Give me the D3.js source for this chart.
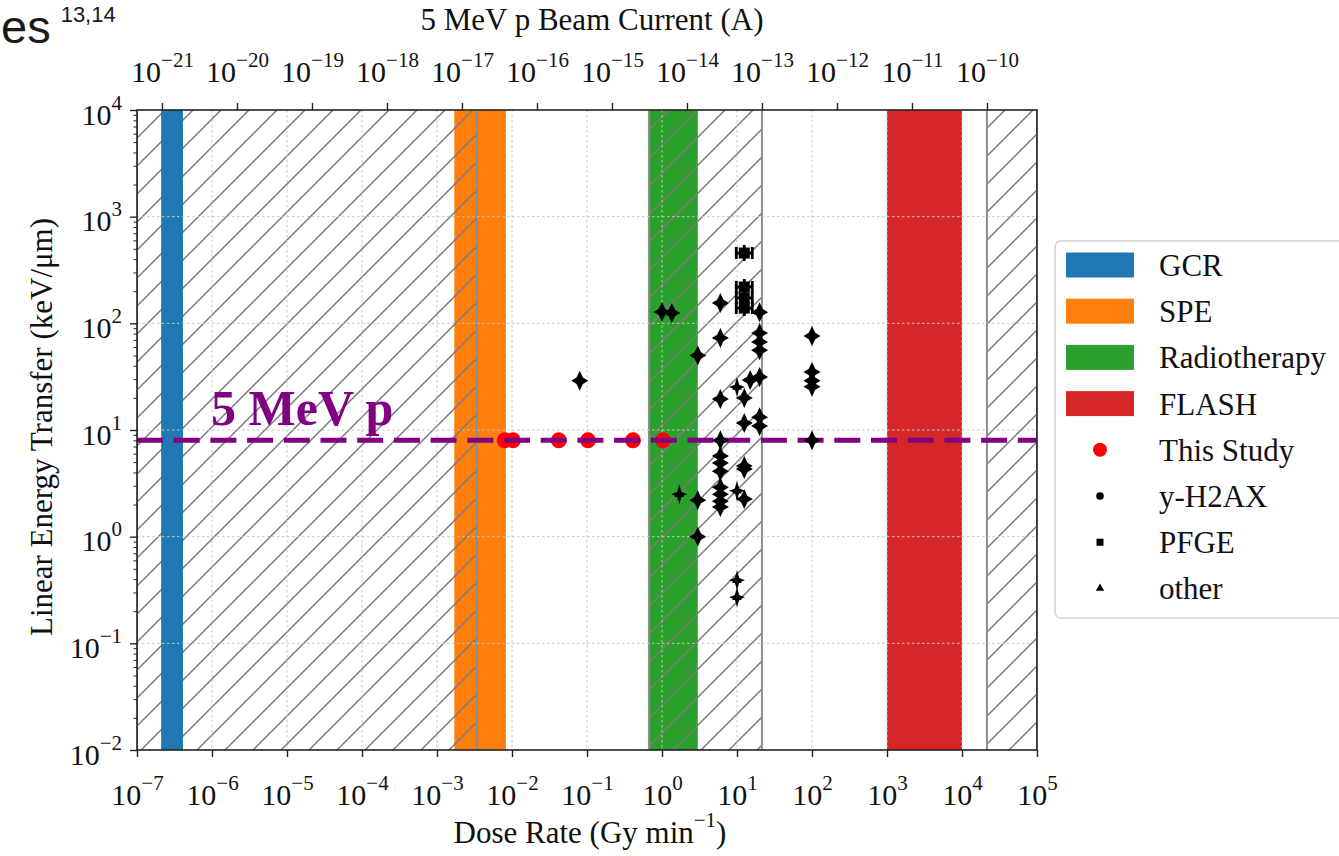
<!DOCTYPE html>
<html>
<head>
<meta charset="utf-8">
<script src="https://cdn.jsdelivr.net/npm/d3@7"></script>
<style>
  body { margin: 0; background: #fff; }
  svg { display: block; font-family: "Liberation Serif", "Times New Roman", serif; }
</style>
</head>
<body>
<svg id="chart" width="1339" height="856"></svg>
<script>
// Dose-rate regimes (Gy/min)
const bandNames  = ["GCR", "SPE", "Radiotherapy", "FLASH"];
const bandColors = ["#1f77b4", "#ff7f0e", "#2ca02c", "#d62728"];
const bandLow    = [2.1e-7, 1.7e-3, 0.65, 1e3];
const bandHigh   = [4.1e-7, 8.3e-3, 3.0, 1e4];

// Dose-rate ranges outside the reach of the 5 MeV proton beam (hatched)
const hatchLow  = [1e-7, 0.67, 2.15e4];
const hatchHigh = [3.4e-3, 21.5, 1e5];

// LET of a 5 MeV proton (keV/µm)
const protonLET = 8;

// Dose rates used in this study (Gy/min)
const studyRate = [0.008, 0.0103, 0.042, 0.103, 0.41, 1.03];

// Literature data: [dose rate (Gy/min), LET (keV/µm)]
const h2axPoints = [
  [0.08, 29],
  [1.0, 128], [1.35, 125], [3, 50], [3, 2.2], [3, 1.0],
  [6, 155], [6, 73], [6, 19.5], [6, 8], [6, 5.7], [6, 4.9], [6, 4.1],
  [6, 2.9], [6, 2.5], [6, 2.15], [6, 1.9],
  [12.5, 20], [12.5, 11.6], [12.5, 4.6], [12.5, 4.3], [12.5, 2.25],
  [15, 29.4],
  [20, 127], [20, 81], [20, 67], [20, 56], [20, 31.4], [20, 13.2], [20, 10.9],
  [100, 76], [100, 35], [100, 29], [100, 25.5], [100, 8]
];
const pfgePoints = [[12.5, 456], [12.5, 219], [12.5, 173], [12.5, 139]];
const otherPoints = [[1.7, 2.5], [10, 25.3], [10, 2.7], [10, 0.39], [10, 0.27]];

// Axis ticks (decade exponents)
const xTickExp = d3.range(-7, 6);          // dose rate
const yTickExp = d3.range(-2, 5);          // LET
const currentTickExp = d3.range(-21, -9);  // beam current

// Beam current (A) that delivers 1 Gy/min with 5 MeV protons
const ampsPerGyMin = Math.pow(10, -14.333);

// Legend entries
const legendLabels = ["GCR", "SPE", "Radiotherapy", "FLASH", "This Study", "y-H2AX", "PFGE", "other"];

const svg = d3.select("#chart");
const plot = { left: 137, right: 1037, top: 110, bottom: 750 };

const x = d3.scaleLog().domain([1e-7, 1e5]).range([plot.left, plot.right]);
const y = d3.scaleLog().domain([1e-2, 1e4]).range([plot.bottom, plot.top]);
const xTop = d3.scaleLog()
  .domain(x.domain().map(v => v * ampsPerGyMin))
  .range([plot.left, plot.right]);

const minus = "\u2212";
const expText = e => (e < 0 ? minus + (-e) : String(e));

// Page text fragment above the figure
const frag = svg.append("text").attr("x", 1).attr("y", 43)
  .attr("font-family", "Liberation Sans, Arial, sans-serif")
  .attr("fill", "#1a1a1a");
frag.append("tspan").attr("font-size", 47).text("es");
frag.append("tspan").attr("font-size", 22).attr("dx", 10).attr("dy", -21).text("13,14");

// Hatch pattern
const defs = svg.append("defs");
const hp = defs.append("pattern").attr("id", "hatch")
  .attr("patternUnits", "userSpaceOnUse")
  .attr("width", 28).attr("height", 28)
  .attr("x", plot.left).attr("y", plot.top);
hp.append("path")
  .attr("d", "M-7,7L7,-7M0,28L28,0M21,35L35,21")
  .attr("stroke", "#7a7a7a").attr("stroke-width", 1.5);

defs.append("clipPath").attr("id", "plotClip").append("rect")
  .attr("x", plot.left).attr("y", plot.top)
  .attr("width", plot.right - plot.left).attr("height", plot.bottom - plot.top);

const area = svg.append("g").attr("clip-path", "url(#plotClip)");

// Regime bands drawn beneath the hatch (all but GCR)
const bandIdx = d3.range(bandNames.length);
area.append("g").selectAll("rect")
  .data(bandIdx.filter(i => i !== 0))
  .join("rect")
  .attr("x", i => x(bandLow[i]))
  .attr("width", i => x(bandHigh[i]) - x(bandLow[i]))
  .attr("y", plot.top).attr("height", plot.bottom - plot.top)
  .attr("fill", i => bandColors[i]);

// Hatched ranges
const hatchIdx = d3.range(hatchLow.length);
area.append("g").selectAll("rect")
  .data(hatchIdx)
  .join("rect")
  .attr("x", i => x(hatchLow[i]))
  .attr("width", i => x(hatchHigh[i]) - x(hatchLow[i]))
  .attr("y", plot.top).attr("height", plot.bottom - plot.top)
  .attr("fill", "url(#hatch)");
area.append("g").selectAll("line")
  .data(hatchIdx.flatMap(i => [hatchLow[i], hatchHigh[i]]))
  .join("line")
  .attr("x1", d => x(d)).attr("x2", d => x(d))
  .attr("y1", plot.top).attr("y2", plot.bottom)
  .attr("stroke", "#8c8c8c").attr("stroke-width", 2);

// GCR band on top of the hatch
area.append("rect")
  .attr("x", x(bandLow[0]))
  .attr("width", x(bandHigh[0]) - x(bandLow[0]))
  .attr("y", plot.top).attr("height", plot.bottom - plot.top)
  .attr("fill", bandColors[0]);

// Grid
const grid = area.append("g").attr("stroke", "#c4c4c4").attr("stroke-width", 1)
  .attr("stroke-dasharray", "2.5,2.5");
grid.selectAll("line.gx")
  .data(xTickExp.slice(1, -1))
  .join("line").attr("class", "gx")
  .attr("x1", e => x(Math.pow(10, e))).attr("x2", e => x(Math.pow(10, e)))
  .attr("y1", plot.top).attr("y2", plot.bottom);
grid.selectAll("line.gy")
  .data(yTickExp.slice(1, -1))
  .join("line").attr("class", "gy")
  .attr("y1", e => y(Math.pow(10, e))).attr("y2", e => y(Math.pow(10, e)))
  .attr("x1", plot.left).attr("x2", plot.right);

// This study
area.append("g").selectAll("circle")
  .data(studyRate)
  .join("circle")
  .attr("cx", d => x(d)).attr("cy", y(protonLET)).attr("r", 8)
  .attr("fill", "#ff0000");

// 5 MeV proton LET line
area.append("line")
  .attr("x1", plot.left).attr("x2", plot.right)
  .attr("y1", y(protonLET)).attr("y2", y(protonLET))
  .attr("stroke", "#800080").attr("stroke-width", 5)
  .attr("stroke-dasharray", "26,10.7");

svg.append("text")
  .attr("x", 211).attr("y", y(protonLET) - 15)
  .attr("font-size", 50).attr("font-weight", "bold")
  .attr("fill", "#800080").text("5 MeV p");

// Literature points: marker plus error bars
const starPath = "M0,-10L3.2,-3.2L8.5,0L3.2,3.2L0,10L-3.2,3.2L-8.5,0L-3.2,-3.2Z";
const thinStar = "M0,-10L2.2,-2.2L8,0L2.2,2.2L0,10L-2.2,2.2L-8,0L-2.2,-2.2Z";
const pts = area.append("g");
pts.selectAll("g.h2ax")
  .data(h2axPoints)
  .join("g").attr("class", "h2ax")
  .attr("transform", d => `translate(${x(d[0])},${y(d[1])})`)
  .call(g => {
    g.append("path").attr("d", starPath).attr("fill", "#000");
    g.append("circle").attr("r", 4.2).attr("fill", "#000");
  });

pts.selectAll("g.other")
  .data(otherPoints)
  .join("g").attr("class", "other")
  .attr("transform", d => `translate(${x(d[0])},${y(d[1])})`)
  .call(g => {
    g.append("path").attr("d", thinStar).attr("fill", "#000");
    g.append("path").attr("d", d3.symbol(d3.symbolTriangle, 40)()).attr("fill", "#000");
  });

pts.selectAll("g.pfge")
  .data(pfgePoints)
  .join("g").attr("class", "pfge")
  .attr("transform", d => `translate(${x(d[0])},${y(d[1])})`)
  .call(g => {
    g.append("path").attr("d", "M-8,0H8M-8,-6V6M8,-6V6M0,-8V8")
      .attr("stroke", "#000").attr("stroke-width", 2.8).attr("fill", "none");
    g.append("rect").attr("x", -5.5).attr("y", -5.5).attr("width", 11).attr("height", 11)
      .attr("fill", "#000");
  });

// Axes
const labelFS = 30, supFS = 21, supRaise = 15;
function powerLabel(text, e) {
  text.text(null);
  text.append("tspan").text("10");
  text.append("tspan").attr("font-size", supFS).attr("dy", -supRaise).text(expText(e));
}

const axX = svg.append("g").attr("transform", `translate(0,${plot.bottom})`)
  .call(d3.axisBottom(x).tickValues(xTickExp.map(e => Math.pow(10, e)))
    .tickSize(7).tickFormat(() => ""));
axX.selectAll(".tick text").each(function (d) {
  const t = d3.select(this).attr("y", 55).attr("dy", null)
    .attr("font-size", labelFS).attr("fill", "#111");
  powerLabel(t, Math.round(Math.log10(d)));
});

const axTop = svg.append("g").attr("transform", `translate(0,${plot.top})`)
  .call(d3.axisTop(xTop).tickValues(currentTickExp.map(e => Math.pow(10, e)))
    .tickSize(7).tickFormat(() => ""));
axTop.selectAll(".tick text").each(function (d) {
  const t = d3.select(this).attr("y", -28).attr("dy", null)
    .attr("font-size", labelFS).attr("fill", "#111");
  powerLabel(t, Math.round(Math.log10(d)));
});

const axY = svg.append("g").attr("transform", `translate(${plot.left},0)`)
  .call(d3.axisLeft(y).tickValues(yTickExp.map(e => Math.pow(10, e)))
    .tickSize(7).tickFormat(() => ""));
axY.selectAll(".tick text").each(function (d) {
  const t = d3.select(this).attr("x", -15).attr("y", 14).attr("dy", null)
    .attr("font-size", labelFS).attr("fill", "#111");
  powerLabel(t, Math.round(Math.log10(d)));
});

const minorY = [];
yTickExp.slice(0, -1).forEach(e => d3.range(2, 10).forEach(m => minorY.push(m * Math.pow(10, e))));
svg.append("g").attr("transform", `translate(${plot.left},0)`)
  .call(d3.axisLeft(y).tickValues(minorY).tickSize(3.5).tickFormat(""))
  .call(g => g.select(".domain").remove());

[axX, axTop, axY].forEach(g => {
  g.select(".domain").remove();
  g.attr("font-family", null);
  g.selectAll(".tick line").attr("stroke-width", 1.4);
});
svg.selectAll(".tick line").attr("stroke", "#222");

// Frame
svg.append("rect")
  .attr("x", plot.left).attr("y", plot.top)
  .attr("width", plot.right - plot.left).attr("height", plot.bottom - plot.top)
  .attr("fill", "none").attr("stroke", "#222").attr("stroke-width", 1.6);

// Axis titles
svg.append("text").attr("x", 592).attr("y", 30).attr("text-anchor", "middle")
  .attr("font-size", 31).attr("fill", "#111").text("5 MeV p Beam Current (A)");

const xt = svg.append("text").attr("x", 590).attr("y", 843).attr("text-anchor", "middle")
  .attr("font-size", 31).attr("fill", "#111");
xt.append("tspan").text("Dose Rate (Gy min");
xt.append("tspan").attr("font-size", 21).attr("dy", -16).text(minus + "1");
xt.append("tspan").attr("dy", 16).text(")");

svg.append("text")
  .attr("transform", `translate(52,${(plot.top + plot.bottom) / 2 - 3}) rotate(-90)`)
  .attr("text-anchor", "middle").attr("font-size", 31).attr("fill", "#111")
  .text("Linear Energy Transfer (keV/\u03bcm)");

// Legend
const leg = svg.append("g");
leg.append("rect").attr("x", 1055).attr("y", 241).attr("width", 300).attr("height", 377)
  .attr("rx", 6).attr("fill", "#fff").attr("fill-opacity", 0.9)
  .attr("stroke", "#d0d0d0").attr("stroke-width", 1.5);
const rowY = i => 265 + i * 46.2;
leg.selectAll("rect.patch")
  .data(bandIdx)
  .join("rect").attr("class", "patch")
  .attr("x", 1066).attr("width", 68)
  .attr("y", i => rowY(i) - 12.5).attr("height", 25)
  .attr("fill", i => bandColors[i]);
leg.append("circle").attr("cx", 1100).attr("cy", rowY(4)).attr("r", 7).attr("fill", "#ff0000");
leg.append("circle").attr("cx", 1100).attr("cy", rowY(5)).attr("r", 3.8).attr("fill", "#000");
leg.append("rect").attr("x", 1096.5).attr("y", rowY(6) - 3.5).attr("width", 7).attr("height", 7).attr("fill", "#000");
leg.append("path").attr("transform", `translate(1100,${rowY(7)})`)
  .attr("d", d3.symbol(d3.symbolTriangle, 30)()).attr("fill", "#000");
leg.selectAll("text")
  .data(legendLabels)
  .join("text")
  .attr("x", 1159).attr("y", (d, i) => rowY(i) + 11)
  .attr("font-size", 31).attr("fill", "#111")
  .text(d => d);
</script>
</body>
</html>
